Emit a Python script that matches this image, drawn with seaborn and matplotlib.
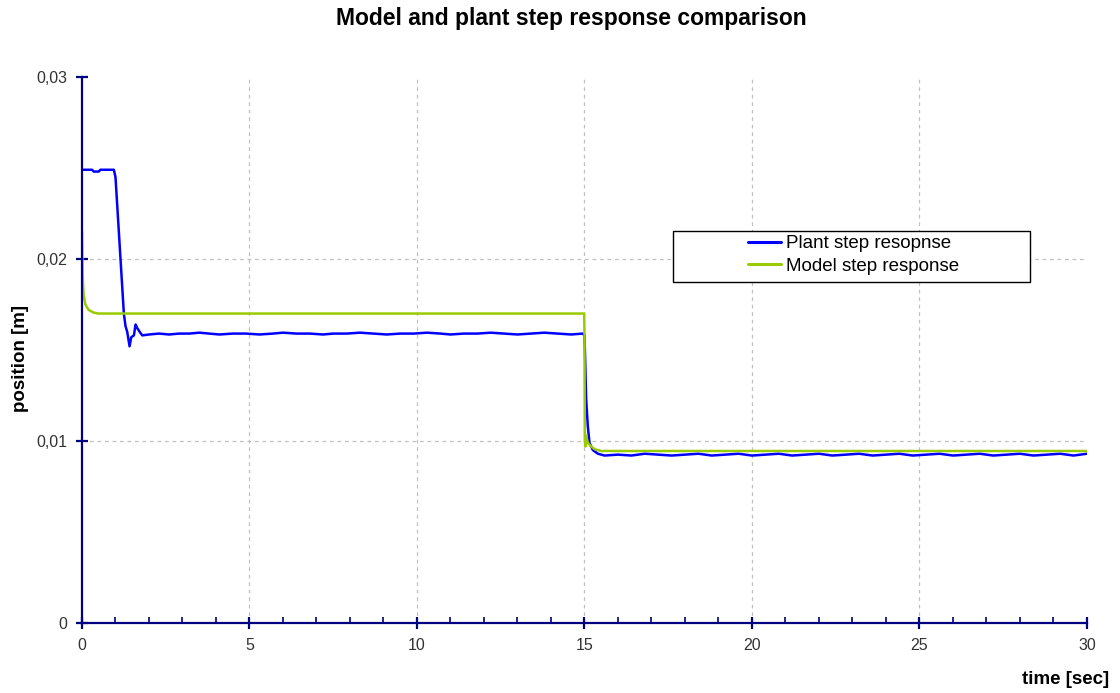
import matplotlib
matplotlib.use("Agg")
import matplotlib.pyplot as plt
import seaborn as sns
import pandas as pd
from matplotlib.patches import Rectangle
from matplotlib.ticker import MultipleLocator, FuncFormatter

plant_t = [0.0, 0.3, 0.35, 0.5, 0.55, 0.95, 1.0, 1.05, 1.1, 1.15, 1.2, 1.25, 1.3, 1.35,
           1.42, 1.47, 1.55, 1.6, 1.65, 1.72, 1.8, 2.0, 2.3, 2.6, 2.9, 3.2, 3.5, 3.8,
           4.1, 4.5, 4.9, 5.3, 5.7, 6.0, 6.4, 6.8, 7.2, 7.5, 7.9, 8.3, 8.7, 9.1, 9.5,
           9.9, 10.3, 10.7, 11.0, 11.4, 11.8, 12.2, 12.6, 13.0, 13.4, 13.8, 14.2, 14.6,
           14.95, 15.0, 15.02, 15.05, 15.1, 15.15, 15.25, 15.4, 15.6, 16.0, 16.4, 16.8,
           17.2, 17.6, 18.0, 18.4, 18.8, 19.2, 19.6, 20.0, 20.4, 20.8, 21.2, 21.6, 22.0,
           22.4, 22.8, 23.2, 23.6, 24.0, 24.4, 24.8, 25.2, 25.6, 26.0, 26.4, 26.8, 27.2,
           27.6, 28.0, 28.4, 28.8, 29.2, 29.6, 30.0]
plant_y = [0.0249, 0.0249, 0.0248, 0.0248, 0.0249, 0.0249, 0.0245, 0.0230, 0.0215, 0.0200,
           0.0185, 0.0170, 0.0163, 0.0160, 0.0152, 0.0157, 0.0158, 0.0164, 0.0162, 0.0160,
           0.0158, 0.01585, 0.0159, 0.01585, 0.0159, 0.0159, 0.01595, 0.0159, 0.01585,
           0.0159, 0.0159, 0.01585, 0.0159, 0.01595, 0.0159, 0.0159, 0.01585, 0.0159,
           0.0159, 0.01595, 0.0159, 0.01585, 0.0159, 0.0159, 0.01595, 0.0159, 0.01585,
           0.0159, 0.0159, 0.01595, 0.0159, 0.01585, 0.0159, 0.01595, 0.0159, 0.01585,
           0.0159, 0.0158, 0.0145, 0.0123, 0.0108, 0.0099, 0.0095, 0.0093, 0.0092, 0.00925,
           0.0092, 0.0093, 0.00925, 0.0092, 0.00925, 0.0093, 0.0092, 0.00925, 0.0093,
           0.0092, 0.00925, 0.0093, 0.0092, 0.00925, 0.0093, 0.0092, 0.00925, 0.0093,
           0.0092, 0.00925, 0.0093, 0.0092, 0.00925, 0.0093, 0.0092, 0.00925, 0.0093,
           0.0092, 0.00925, 0.0093, 0.0092, 0.00925, 0.0093, 0.0092, 0.0093]

# Model step response
model_t = [0.0, 0.02, 0.05, 0.1, 0.2, 0.35, 0.5, 14.99, 15.0, 15.01, 15.03, 15.05, 15.1,
           15.2, 15.3, 15.5, 30.0]
model_y = [0.0215, 0.0190, 0.0180, 0.0175, 0.0172, 0.01705, 0.0170, 0.0170, 0.0160,
           0.0100, 0.0097, 0.0103, 0.0099, 0.0097, 0.00955, 0.00945, 0.00945]

series_names = ["Plant step resopnse", "Model step response"]
series_colors = ["#0000FF", "#99CC00"]

plant = pd.DataFrame({"t": plant_t, "y": plant_y})
model = pd.DataFrame({"t": model_t, "y": model_y})

sns.set_style("white")
plt.rcParams["font.family"] = ["Liberation Sans", "DejaVu Sans"]
plt.rcParams["text.color"] = "black"

fig = plt.figure(figsize=(11.2, 6.93), dpi=100)
ax = fig.add_axes([0.0732, 0.101, 0.8973, 0.788])

# dashed grid at inner major ticks only (as in the original)
for gx in [5, 10, 15, 20, 25]:
    ax.axvline(gx, color="#c0c0c0", linestyle=(0, (3, 3)), linewidth=0.9, zorder=0)
for gy in [0.01, 0.02]:
    ax.axhline(gy, color="#c0c0c0", linestyle=(0, (3, 3)), linewidth=0.9, zorder=0)

sns.lineplot(data=plant, x="t", y="y", color=series_colors[0], estimator=None, sort=False,
             linewidth=1.8, ax=ax)
sns.lineplot(data=model, x="t", y="y", color=series_colors[1], estimator=None, sort=False,
             linewidth=1.8, ax=ax)

ax.set_xlim(0, 30)
ax.set_ylim(0, 0.03)
ax.xaxis.set_major_locator(MultipleLocator(5))
ax.xaxis.set_minor_locator(MultipleLocator(1))
ax.yaxis.set_major_locator(MultipleLocator(0.01))
ax.yaxis.set_major_formatter(FuncFormatter(lambda v, p: "0" if v == 0 else f"{v:.2f}".replace(".", ",")))

ax.grid(False)
for s in ["top", "right"]:
    ax.spines[s].set_visible(False)
for s in ["left", "bottom"]:
    ax.spines[s].set_color("#000080")
    ax.spines[s].set_linewidth(1.6)

ax.tick_params(which="both", bottom=True, left=True)
ax.tick_params(which="major", direction="inout", length=9, width=1.6, color="#000080",
               labelsize=11.5, labelcolor="#333333", pad=6)
ax.tick_params(axis="x", which="minor", direction="in", length=4, width=1.2, color="#000080")
ax.tick_params(axis="y", which="minor", left=False)

ax.set_xlabel("")
ax.set_ylabel("")
fig.text(0.51, 0.974, "Model and plant step response comparison", ha="center", va="center",
         fontsize=16.5, fontweight="bold")
fig.text(0.99, 1 - 679 / 693, "time [sec]", ha="right", va="center", fontsize=13.5,
         fontweight="bold")
fig.text(0.018, 0.482, "position [m]", ha="center", va="center", rotation=90,
         fontsize=13.5, fontweight="bold")

# legend box in the Excel style
ax.add_patch(Rectangle((0.588, 0.6245), 0.355, 0.0935, transform=ax.transAxes,
                       facecolor="white", edgecolor="black", linewidth=1.0, zorder=5))
handles = [plt.Line2D([], [], color=c, linewidth=2.2) for c in series_colors]
leg = ax.legend(handles, series_names, loc="center", bbox_to_anchor=(0.768, 0.674),
                frameon=False, fontsize=13.5, handlelength=1.75, handletextpad=0.3,
                labelspacing=0.3, borderpad=0)
leg.set_zorder(6)

fig.savefig("out.png", dpi=100)
